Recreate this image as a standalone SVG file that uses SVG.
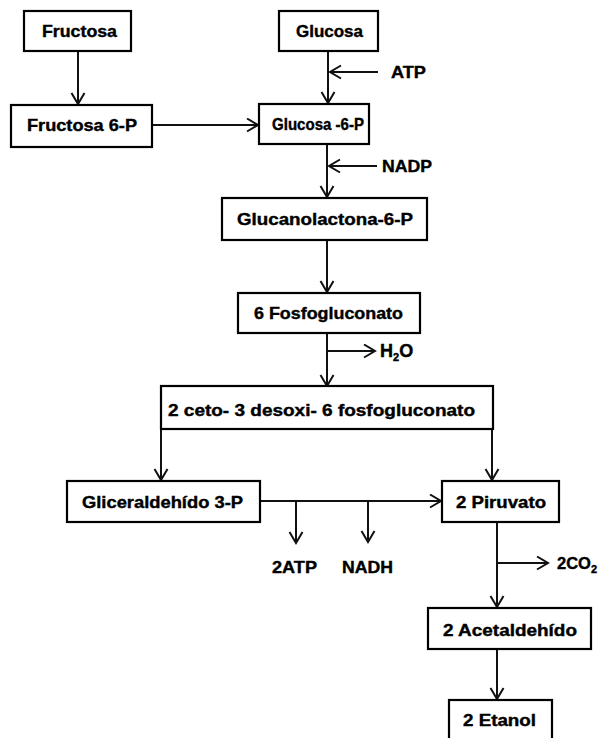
<svg xmlns="http://www.w3.org/2000/svg" width="602" height="738" viewBox="0 0 602 738">
<style>
.box{fill:#fff;stroke:#000;stroke-width:2.2}
.t{font-family:"Liberation Sans",Arial,sans-serif;font-weight:bold;font-size:16.5px;fill:#000;stroke:#000;stroke-width:0.4;text-anchor:start}
.c{fill:none;stroke:#111;stroke-width:2}
.sub{font-size:11px}
</style>
<defs>
<marker id="ah" markerUnits="userSpaceOnUse" markerWidth="14" markerHeight="16" refX="11" refY="6.5" orient="auto" viewBox="-1 -1 14 16">
<path d="M0,0 L11,6.5 L0,13" fill="none" stroke="#111" stroke-width="2"/>
</marker>
</defs>
<rect width="602" height="738" fill="#fff"/>
<g id="connectors">
<line class="c" x1="78" y1="51" x2="78" y2="104" marker-end="url(#ah)"/>
<line class="c" x1="328" y1="51" x2="328" y2="103" marker-end="url(#ah)"/>
<line class="c" x1="378" y1="72" x2="330" y2="72" marker-end="url(#ah)"/>
<line class="c" x1="152" y1="125" x2="258" y2="125" marker-end="url(#ah)"/>
<line class="c" x1="327" y1="144" x2="327" y2="197" marker-end="url(#ah)"/>
<line class="c" x1="377" y1="166" x2="329" y2="166" marker-end="url(#ah)"/>
<line class="c" x1="327" y1="240" x2="327" y2="292" marker-end="url(#ah)"/>
<line class="c" x1="327" y1="333" x2="327" y2="386" marker-end="url(#ah)"/>
<line class="c" x1="327" y1="351" x2="375" y2="351" marker-end="url(#ah)"/>
<line class="c" x1="161" y1="429" x2="161" y2="480" marker-end="url(#ah)"/>
<line class="c" x1="492" y1="429" x2="492" y2="480" marker-end="url(#ah)"/>
<line class="c" x1="260" y1="501" x2="441" y2="501" marker-end="url(#ah)"/>
<line class="c" x1="296" y1="501" x2="296" y2="543" marker-end="url(#ah)"/>
<line class="c" x1="368" y1="501" x2="368" y2="542" marker-end="url(#ah)"/>
<line class="c" x1="497" y1="522" x2="497" y2="607" marker-end="url(#ah)"/>
<line class="c" x1="497" y1="563" x2="548" y2="563" marker-end="url(#ah)"/>
<line class="c" x1="497" y1="649" x2="497" y2="699" marker-end="url(#ah)"/>
</g>
<g id="fructosa"><rect class="box" x="24" y="11" width="107" height="40"/><text class="t" x="42" y="37" textLength="75" lengthAdjust="spacingAndGlyphs">Fructosa</text></g>
<g id="glucosa"><rect class="box" x="279" y="11" width="99" height="40"/><text class="t" x="296" y="37" textLength="67" lengthAdjust="spacingAndGlyphs">Glucosa</text></g>
<g id="atp"><text class="t" x="391" y="78" textLength="35" lengthAdjust="spacingAndGlyphs">ATP</text></g>
<g id="fructosa6p"><rect class="box" x="11" y="105" width="141" height="42"/><text class="t" x="27" y="131" textLength="110" lengthAdjust="spacingAndGlyphs">Fructosa 6-P</text></g>
<g id="glucosa6p"><rect class="box" x="259" y="104" width="110" height="40"/><text class="t" x="272" y="130" textLength="92" lengthAdjust="spacingAndGlyphs">Glucosa -6-P</text></g>
<g id="nadp"><text class="t" x="382" y="172" textLength="50" lengthAdjust="spacingAndGlyphs">NADP</text></g>
<g id="glucanolactona"><rect class="box" x="222" y="198" width="205" height="42"/><text class="t" x="237" y="225" textLength="176" lengthAdjust="spacingAndGlyphs">Glucanolactona-6-P</text></g>
<g id="fosfogluconato"><rect class="box" x="238" y="293" width="182" height="40"/><text class="t" x="254" y="319" textLength="149" lengthAdjust="spacingAndGlyphs">6 Fosfogluconato</text></g>
<g id="h2o"><text class="t" x="380" y="357" style="font-size:18px">H<tspan class="sub" dy="4">2</tspan><tspan dy="-4">O</tspan></text></g>
<g id="ceto"><rect class="box" x="161" y="386" width="332" height="43"/><text class="t" x="168" y="416" textLength="307" lengthAdjust="spacingAndGlyphs">2 ceto- 3 desoxi- 6 fosfogluconato</text></g>
<g id="gliceraldehido"><rect class="box" x="67" y="481" width="193" height="41"/><text class="t" x="82" y="508" textLength="161" lengthAdjust="spacingAndGlyphs">Gliceraldehído 3-P</text></g>
<g id="piruvato"><rect class="box" x="442" y="481" width="117" height="41"/><text class="t" x="456" y="508" textLength="90" lengthAdjust="spacingAndGlyphs">2 Piruvato</text></g>
<g id="atp2"><text class="t" x="272" y="573" textLength="45" lengthAdjust="spacingAndGlyphs">2ATP</text></g>
<g id="nadh"><text class="t" x="342" y="573" textLength="51" lengthAdjust="spacingAndGlyphs">NADH</text></g>
<g id="co2"><text class="t" x="557" y="569">2CO<tspan class="sub" dy="4">2</tspan></text></g>
<g id="acetaldehido"><rect class="box" x="428" y="608" width="163" height="41"/><text class="t" x="443" y="636" textLength="134" lengthAdjust="spacingAndGlyphs">2 Acetaldehído</text></g>
<g id="etanol"><rect class="box" x="449" y="700" width="103" height="46"/><text class="t" x="463" y="726" textLength="73" lengthAdjust="spacingAndGlyphs">2 Etanol</text></g>
</svg>
